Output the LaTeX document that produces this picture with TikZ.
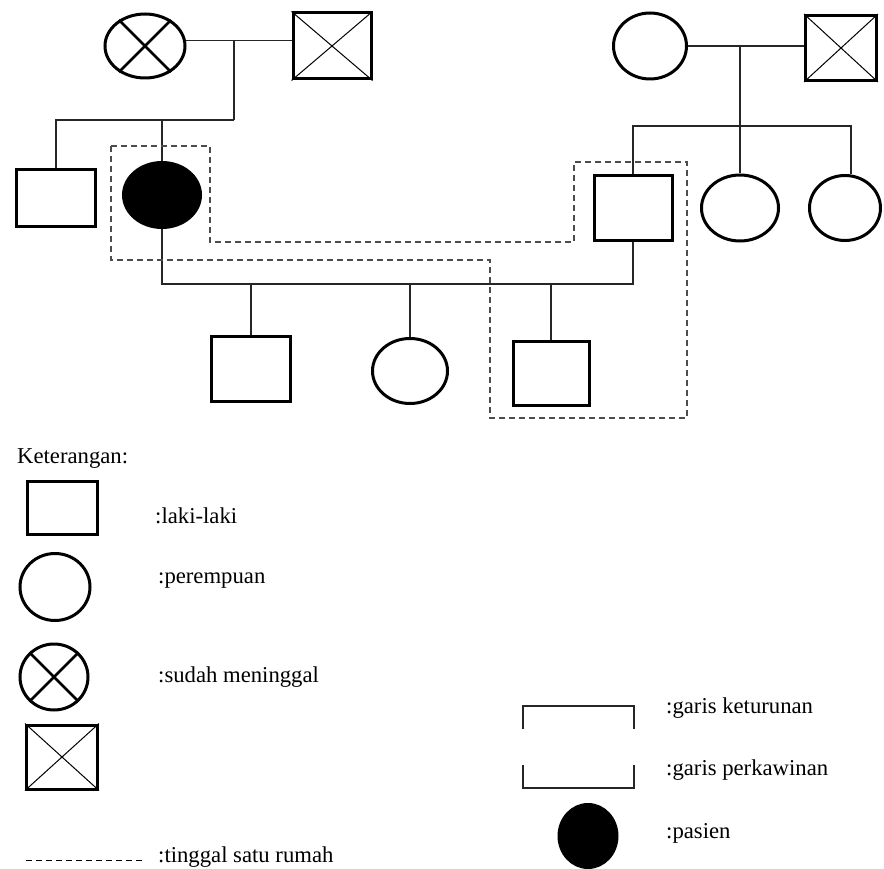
\documentclass[tikz,border=0pt]{standalone}
\usepackage{fontspec}
\setmainfont{Liberation Serif}
\usetikzlibrary{shapes.geometric}

\begin{document}
\begin{tikzpicture}[x=1pt,y=-1pt,
    male/.style={draw,rectangle,line width=3pt,inner sep=0pt},
    female/.style={draw,ellipse,line width=3pt,inner sep=0pt},
    link/.style={line width=1.4pt,black!85},
    house/.style={line width=1.4pt,black!70,dash pattern=on 6pt off 4pt},
    lbl/.style={anchor=base west,inner sep=0pt,font=\fontsize{22.7}{27}\selectfont}]
    \useasboundingbox (0,0) rectangle (884,869);

    % generasi I
    \node[female,minimum width=80pt,minimum height=64pt] (gmL) at (145,46) {};
    \node[male,minimum width=78pt,minimum height=66pt] (gfL) at (332,46) {};
    \node[female,minimum width=73pt,minimum height=66pt] (gmR) at (650,46) {};
    \node[male,minimum width=71pt,minimum height=65pt] (gfR) at (841,48) {};

    % generasi II
    \node[male,minimum width=79pt,minimum height=57pt] (uncle) at (56,198) {};
    \node[female,fill=black,minimum width=77pt,minimum height=65pt] (patient) at (162,195) {};
    \node[male,minimum width=78pt,minimum height=65pt] (husband) at (633,208) {};
    \node[female,minimum width=77pt,minimum height=66pt] (aunt1) at (740,208) {};
    \node[female,minimum width=71pt,minimum height=65pt] (aunt2) at (845,208) {};

    % generasi III
    \node[male,minimum width=79pt,minimum height=65pt] (son1) at (251,369) {};
    \node[female,minimum width=75pt,minimum height=65pt] (dau1) at (410,371) {};
    \node[male,minimum width=76pt,minimum height=64pt] (son2) at (551,373) {};

    % meninggal
    \draw[line width=2.8pt] (gmL.45) -- (gmL.225) (gmL.135) -- (gmL.315);
    \foreach \n in {gfL,gfR} {
            \draw[line width=1pt] (\n.north west) -- (\n.south east)
                (\n.north east) -- (\n.south west);
        }

    \begin{scope}[link]
        \coordinate (mL) at (234,40);
        \coordinate (mR) at (740,46);
        \draw (gmL.8) -- (gfL.west |- gmL.8);
        \draw (gmR.east) -- (gfR.west |- gmR.east);
        \draw (mL) -- ++(0,80) coordinate (sL);
        \draw (sL) -| (uncle.north);
        \draw (patient.north) -- (patient.north |- sL);
        \draw (mR) -- (aunt1.north);
        \coordinate (sR) at (740,126);
        \draw (husband.north) |- (sR) -| ([xshift=6pt]aunt2.north);
        \coordinate (mC) at (patient.south |- 0,284);
        \draw (patient.south) -- (mC) -| (husband.south);
        \foreach \k in {son1,dau1,son2} {
                \draw (\k.north) -- (\k.north |- mC);
            }
    \end{scope}

    % tinggal satu rumah
    \draw[house] (111,146) -- (210,146) -- (210,242) -- (574,242) -- (574,162)
        -- (687,162) -- (687,418) -- (490,418) -- (490,260) -- (111,260) -- cycle;

    % Keterangan
    \node[lbl] (ket) at (17,463) {Keterangan:};
    \node[male,minimum width=70pt,minimum height=53pt] (kMale) at (62,508) {};
    \node[female,minimum width=70pt,minimum height=67pt] (kFemale) at (55,587) {};
    \node[female,minimum width=68pt,minimum height=66pt] (kDeadF) at (54,677) {};
    \node[male,minimum width=71pt,minimum height=64pt] (kDeadM) at (62,757) {};
    \draw[line width=2.8pt] (kDeadF.45) -- (kDeadF.225) (kDeadF.135) -- (kDeadF.315);
    \draw[line width=1pt] (kDeadM.north west) -- (kDeadM.south east)
        (kDeadM.north east) -- (kDeadM.south west);
    \coordinate (dashA) at (26,860);
    \coordinate (dashB) at (144,860);
    \draw[line width=1pt,dash pattern=on 6pt off 4pt] (dashA) -- (dashB);
    \node[female,fill=black,minimum width=58pt,minimum height=63pt] (kPatient) at (588,836) {};

    \begin{scope}[link]
        \draw (523,729) |- (634,706) -- (634,729);
        \draw (523,765) |- (634,788) -- (634,765);
    \end{scope}

    \node[lbl] (tMale) at (155,523) {:laki-laki};
    \node[lbl] (tFemale) at (158,583) {:perempuan};
    \node[lbl] (tDead) at (158,682) {:sudah meninggal};
    \node[lbl] (tHouse) at (158,862) {:tinggal satu rumah};
    \node[lbl] (tDescent) at (666,713) {:garis keturunan};
    \node[lbl] (tMarriage) at (666,775) {:garis perkawinan};
    \node[lbl] (tPatient) at (666,838) {:pasien};
\end{tikzpicture}
\end{document}
